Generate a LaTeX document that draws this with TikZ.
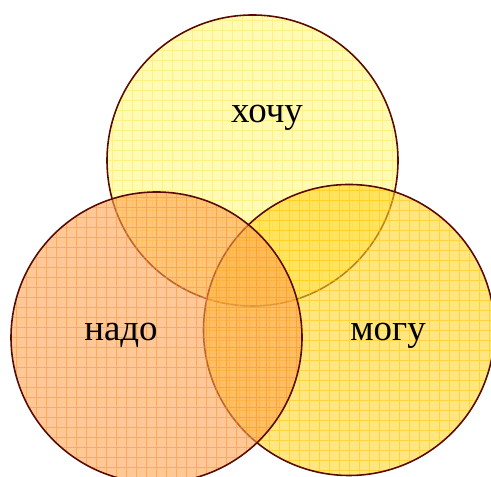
\documentclass[tikz,border=0pt]{standalone}
\usepackage{fontspec}
\setmainfont{Liberation Serif}
\usetikzlibrary{positioning}

\definecolor{setborder}{RGB}{90,10,0}
\definecolor{hochufill}{RGB}{255,247,130}
\definecolor{hochugrid}{RGB}{255,232,80}
\definecolor{nadofill}{RGB}{255,163,80}
\definecolor{nadogrid}{RGB}{255,140,30}
\definecolor{mogufill}{RGB}{255,213,43}
\definecolor{mogugrid}{RGB}{255,195,0}

\begin{document}
\begin{tikzpicture}[
setnode/.style n args={2}{circle, minimum size=5.82cm, inner sep=0pt,
    draw=setborder, line width=0.9pt, fill=#1, fill opacity=0.6,
    path picture={\draw[#2, line width=0.5pt, draw opacity=0.5, step=0.2]
        (-3.05,-3.05) grid (3.05,3.05);}},
labelnode/.style={font=\fontsize{21}{25}\selectfont, anchor=base, inner sep=0pt}
]
    \useasboundingbox (0,0) rectangle (9.82,9.54);

    %Nodes
    \node[setnode={hochufill}{hochugrid}]
        (hochu) at (5.05,6.33) {};
    \node[setnode={mogufill}{mogugrid}]
        (mogu)  at (6.98,2.94) {};
    \node[setnode={nadofill}{nadogrid}]
        (nado)  at (3.13,2.79) {};

    %Labels
    \node[labelnode] (lhochu) at (5.34,7.08) {хочу};
    \node[labelnode] (lnado)  at (2.42,2.72) {надо};
    \node[labelnode] (lmogu)  at (7.76,2.72) {могу};
\end{tikzpicture}
\end{document}
